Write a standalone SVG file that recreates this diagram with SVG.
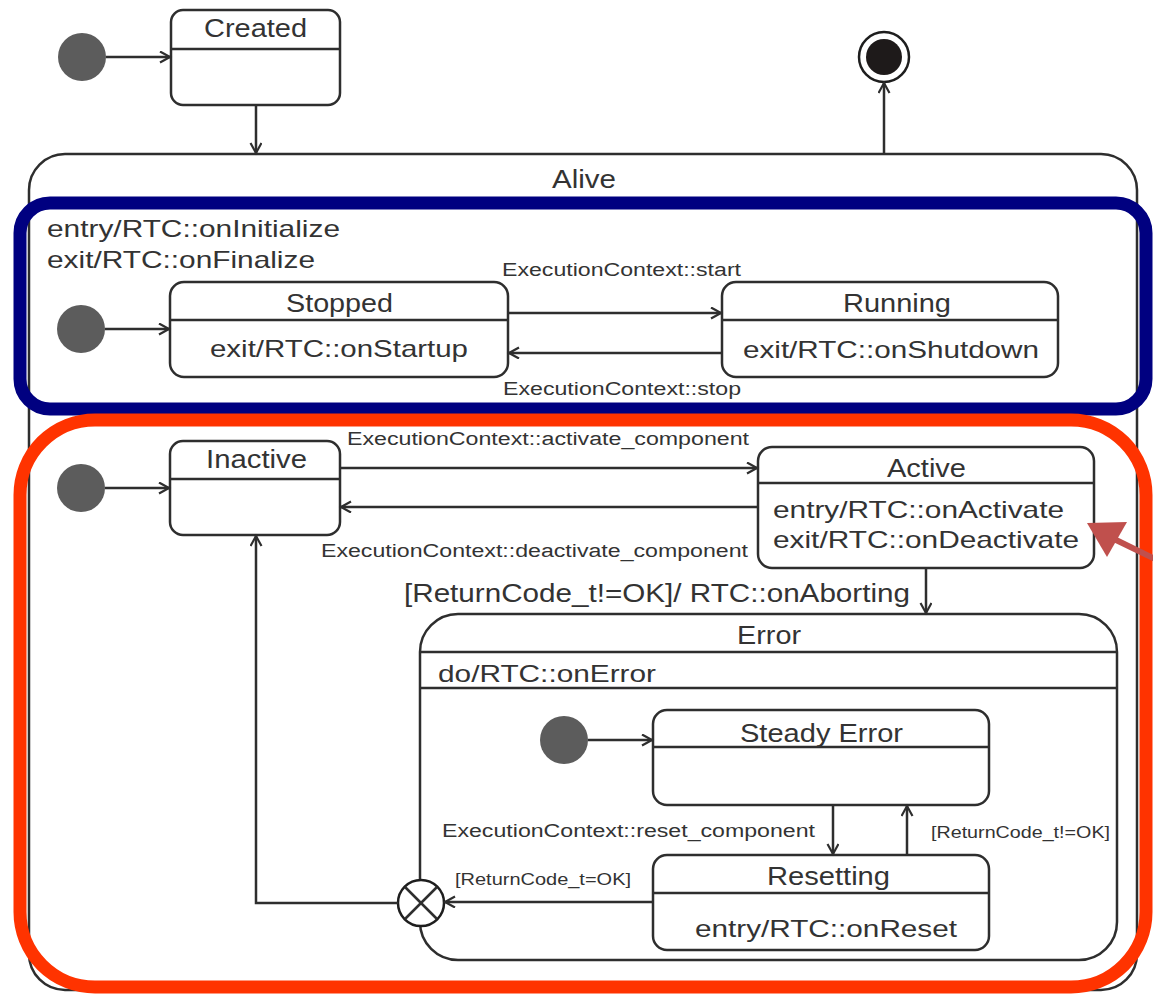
<svg xmlns="http://www.w3.org/2000/svg" width="1153" height="994" viewBox="0 0 1153 994">
<style>
  .st { fill: #ffffff; stroke: #2e2e2e; stroke-width: 2.5; }
  .ln { stroke: #2e2e2e; stroke-width: 2.5; fill: none; }
  .cn { stroke: #2e2e2e; stroke-width: 2.5; fill: none; marker-end: url(#arr); }
  .init { fill: #5c5c5c; }
  text { font-family: "Liberation Sans", Arial, sans-serif; fill: #333333; }
  .nm { font-size: 26px; }
  .ac { font-size: 24px; }
  .lb { font-size: 18px; }
</style>
<defs>
  <marker id="arr" markerUnits="userSpaceOnUse" markerWidth="14" markerHeight="14" refX="11" refY="6" orient="auto">
    <path d="M1,0.5 L11,6 L1,11.5" fill="none" stroke="#2e2e2e" stroke-width="2.2"/>
  </marker>
</defs>
<rect width="1153" height="994" fill="#ffffff"/>

<g id="Alive">
  <rect class="st" x="29" y="154" width="1108" height="836" rx="36" ry="36"/>
  <text class="nm" x="552" y="188" textLength="64" lengthAdjust="spacingAndGlyphs">Alive</text>
</g>

<g id="alive-region">
  <text class="ac" x="47" y="237" textLength="293" lengthAdjust="spacingAndGlyphs">entry/RTC::onInitialize</text>
  <text class="ac" x="47" y="268" textLength="268" lengthAdjust="spacingAndGlyphs">exit/RTC::onFinalize</text>
</g>

<g id="Created">
  <rect class="st" x="171" y="10" width="169" height="95" rx="12" ry="12"/>
  <line class="ln" x1="171" y1="49" x2="340" y2="49"/>
  <text class="nm" x="204" y="37" textLength="103" lengthAdjust="spacingAndGlyphs">Created</text>
</g>

<g id="init-top"><circle class="init" cx="82" cy="57" r="24"/></g>

<g id="final">
  <circle cx="884" cy="57" r="25" fill="#ffffff" stroke="#1e1e1e" stroke-width="2.5"/>
  <circle cx="884" cy="57" r="18" fill="#1e1a1a"/>
</g>

<g id="Stopped">
  <rect class="st" x="170" y="282" width="338" height="95" rx="14" ry="14"/>
  <line class="ln" x1="170" y1="320" x2="508" y2="320"/>
  <text class="nm" x="286" y="312" textLength="107" lengthAdjust="spacingAndGlyphs">Stopped</text>
  <text class="ac" x="210" y="357" textLength="258" lengthAdjust="spacingAndGlyphs">exit/RTC::onStartup</text>
</g>

<g id="Running">
  <rect class="st" x="722" y="282" width="336" height="95" rx="14" ry="14"/>
  <line class="ln" x1="722" y1="320" x2="1058" y2="320"/>
  <text class="nm" x="843" y="312" textLength="108" lengthAdjust="spacingAndGlyphs">Running</text>
  <text class="ac" x="743" y="358" textLength="296" lengthAdjust="spacingAndGlyphs">exit/RTC::onShutdown</text>
</g>

<g id="init-alive"><circle class="init" cx="81" cy="329" r="24"/></g>

<g id="Inactive">
  <rect class="st" x="170" y="441" width="170" height="94" rx="13" ry="13"/>
  <line class="ln" x1="170" y1="479" x2="340" y2="479"/>
  <text class="nm" x="206" y="468" textLength="101" lengthAdjust="spacingAndGlyphs">Inactive</text>
</g>

<g id="init-inactive"><circle class="init" cx="81" cy="488" r="24"/></g>

<g id="Active">
  <rect class="st" x="758" y="447" width="336" height="121" rx="14" ry="14"/>
  <line class="ln" x1="758" y1="483" x2="1094" y2="483"/>
  <text class="nm" x="887" y="477" textLength="79" lengthAdjust="spacingAndGlyphs">Active</text>
  <text class="ac" x="773" y="518" textLength="291" lengthAdjust="spacingAndGlyphs">entry/RTC::onActivate</text>
  <text class="ac" x="773" y="548" textLength="306" lengthAdjust="spacingAndGlyphs">exit/RTC::onDeactivate</text>
</g>

<g id="Error">
  <rect class="st" x="420" y="614" width="697" height="346" rx="38" ry="38"/>
  <line class="ln" x1="420" y1="652" x2="1117" y2="652"/>
  <line class="ln" x1="420" y1="688" x2="1117" y2="688"/>
  <text class="nm" x="737" y="644" textLength="64" lengthAdjust="spacingAndGlyphs">Error</text>
  <text class="ac" x="438" y="682" textLength="218" lengthAdjust="spacingAndGlyphs">do/RTC::onError</text>
</g>

<g id="init-error"><circle class="init" cx="564" cy="740" r="24"/></g>

<g id="SteadyError">
  <rect class="st" x="653" y="710" width="336" height="95" rx="14" ry="14"/>
  <line class="ln" x1="653" y1="747" x2="989" y2="747"/>
  <text class="nm" x="740" y="742" textLength="163" lengthAdjust="spacingAndGlyphs">Steady Error</text>
</g>

<g id="Resetting">
  <rect class="st" x="653" y="855" width="336" height="95" rx="14" ry="14"/>
  <line class="ln" x1="653" y1="893" x2="989" y2="893"/>
  <text class="nm" x="767" y="885" textLength="123" lengthAdjust="spacingAndGlyphs">Resetting</text>
  <text class="ac" x="695" y="937" textLength="262" lengthAdjust="spacingAndGlyphs">entry/RTC::onReset</text>
</g>

<g id="junction">
  <circle cx="421" cy="903" r="23" fill="#ffffff" stroke="#1e1e1e" stroke-width="2.5"/>
  <line class="ln" x1="405" y1="887" x2="437" y2="919" stroke="#1e1e1e"/>
  <line class="ln" x1="437" y1="887" x2="405" y2="919" stroke="#1e1e1e"/>
</g>

<g id="connectors">
  <line class="cn" x1="106" y1="57" x2="170" y2="57"/>
  <line class="cn" x1="256" y1="105" x2="256" y2="153"/>
  <line class="cn" x1="884" y1="154" x2="884" y2="83"/>
  <line class="cn" x1="105" y1="329" x2="169" y2="329"/>
  <line class="cn" x1="508" y1="313" x2="721" y2="313"/>
  <line class="cn" x1="722" y1="353" x2="509" y2="353"/>
  <line class="cn" x1="105" y1="488" x2="169" y2="488"/>
  <line class="cn" x1="340" y1="468" x2="757" y2="468"/>
  <line class="cn" x1="758" y1="507" x2="341" y2="507"/>
  <line class="cn" x1="926" y1="568" x2="926" y2="613"/>
  <line class="cn" x1="588" y1="740" x2="652" y2="740"/>
  <line class="cn" x1="833" y1="805" x2="833" y2="854"/>
  <line class="cn" x1="907" y1="855" x2="907" y2="806"/>
  <line class="cn" x1="653" y1="902" x2="445" y2="902"/>
  <path class="cn" d="M398,903 H256 V536"/>
  <text class="lb" x="502" y="276" textLength="239" lengthAdjust="spacingAndGlyphs">ExecutionContext::start</text>
  <text class="lb" x="503" y="395" textLength="238" lengthAdjust="spacingAndGlyphs">ExecutionContext::stop</text>
  <text class="lb" x="347" y="445" textLength="402" lengthAdjust="spacingAndGlyphs">ExecutionContext::activate_component</text>
  <text class="lb" x="321" y="557" textLength="427" lengthAdjust="spacingAndGlyphs">ExecutionContext::deactivate_component</text>
  <text x="404" y="602" font-size="25" textLength="506" lengthAdjust="spacingAndGlyphs">[ReturnCode_t!=OK]/ RTC::onAborting</text>
  <text class="lb" x="442" y="837" textLength="373" lengthAdjust="spacingAndGlyphs">ExecutionContext::reset_component</text>
  <text x="931" y="838" font-size="16" textLength="179" lengthAdjust="spacingAndGlyphs">[ReturnCode_t!=OK]</text>
  <text x="455" y="885" font-size="16" textLength="176" lengthAdjust="spacingAndGlyphs">[ReturnCode_t=OK]</text>
</g>

<g id="highlights">
  <rect x="20" y="203" width="1126" height="206" rx="30" ry="30" fill="none" stroke="#000080" stroke-width="13"/>
  <rect x="20" y="420" width="1126" height="567" rx="75" ry="75" fill="none" stroke="#ff3300" stroke-width="13"/>
  <line x1="1155" y1="559" x2="1114" y2="539" stroke="#c0504d" stroke-width="6"/>
  <polygon points="1087,523 1127,522 1107,557" fill="#c0504d"/>
</g>
</svg>
